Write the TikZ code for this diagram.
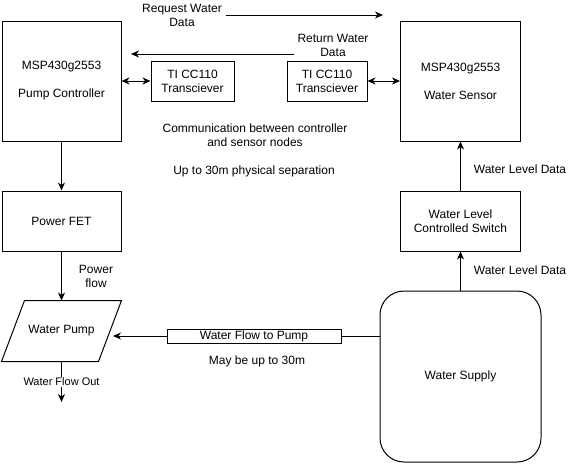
\documentclass[tikz,border=0pt]{standalone}
\usepackage{fontspec}
\setmainfont{Liberation Sans}
\usetikzlibrary{arrows.meta}

\begin{document}
\begin{tikzpicture}[
        x = 1pt, y = -1pt, line width = 1pt,
        every node/.style = {font=\fontsize{12}{14}\selectfont, align=center},
        block/.style = {draw, rectangle, inner sep=2pt},
        flow/.style = {draw, -{Stealth[length=8pt,width=7pt,inset=2.5pt]}},
        link/.style = {draw, {Stealth[length=8pt,width=7pt,inset=2.5pt]}-{Stealth[length=8pt,width=7pt,inset=2.5pt]}},
        small/.style = {font=\fontsize{11}{13}\selectfont}
    ]
    \useasboundingbox (0,0) rectangle (569,463);

    % controller side
    \node[block, minimum width=119pt, minimum height=120pt] (ctrl) at (61.5,81) {MSP430g2553\\[14pt]Pump Controller};
    \node[block, minimum width=83pt, minimum height=40pt] (tx1) at (192.5,81) {TI CC110\\Transciever};
    \node[block, minimum width=119pt, minimum height=60pt] (fet) at (61.5,221) {Power FET};
    \node[minimum width=96pt, minimum height=60pt, inner sep=0pt] (pump) at (61.5,331) {Water Pump};
    \draw ([xshift=-11.5pt]pump.south west) -- ([xshift=11.5pt]pump.north west)
        -- ([xshift=11.5pt]pump.north east) -- ([xshift=-11.5pt]pump.south east) -- cycle;

    % sensor side
    \node[block, minimum width=80pt, minimum height=40pt] (tx2) at (327,81) {TI CC110\\Transciever};
    \node[block, minimum width=120pt, minimum height=120pt] (sensor) at (460.5,81) {MSP430g2553\\[14pt]Water Sensor};
    \node[block, minimum width=120pt, minimum height=60pt] (switch) at (460.5,221) {Water Level\\Controlled Switch};
    \node[block, rounded corners=24pt, minimum width=161pt, minimum height=171pt] (supply) at (460.5,376.5) {Water Supply};
    \node[block, inner sep=0pt, minimum width=174pt, minimum height=14pt] (flowbox) at (254,336) {Water Flow to Pump};

    % free text
    \node (reqtxt) at (182,15) {Request Water\\Data};
    \node (rettxt) at (333,45) {Return Water\\Data};
    \node (comm) at (255,135.5) {Communication between controller\\and sensor nodes};
    \node (sep) at (254,171) {Up to 30m physical separation};
    \node (pwr) at (96,276) {Power\\flow};
    \node (lvl1) at (520,169) {Water Level Data};
    \node (lvl2) at (520,270) {Water Level Data};
    \node (maybe) at (257,361) {May be up to 30m};

    \coordinate (reqend) at (383,15);
    \coordinate (retend) at (131,54);
    \coordinate (outend) at (61.5,402);

    % radio link
    \path (reqtxt.east) edge[flow] (reqend);
    \path (retend -| rettxt.west) edge[flow] (retend);
    \path (ctrl.east) edge[link] (tx1.west);
    \path (tx2.east) edge[link] (sensor.west);

    % power and water
    \path (ctrl.south) edge[flow] (fet.north);
    \path (fet.south) edge[flow] (pump.north);
    \path (flowbox.west) edge[flow, shorten >=3pt] (flowbox.west -| pump.east);
    \path (flowbox.east) edge (flowbox.east -| supply.west);
    \path (pump.south) edge[flow] node[small, fill=white, inner sep=1pt] {Water Flow Out} (outend);
    \path (supply.north) edge[flow] (switch.south);
    \path (switch.north) edge[flow] (sensor.south);
\end{tikzpicture}
\end{document}
